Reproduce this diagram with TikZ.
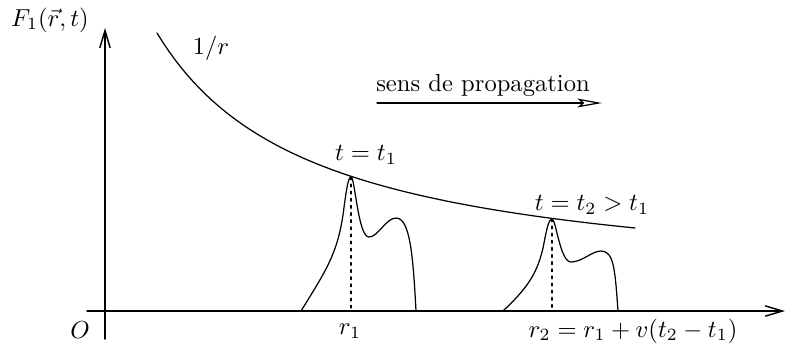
\documentclass[tikz,border=0pt]{standalone}
\usepackage{amsmath,amssymb}
\usetikzlibrary{arrows.meta}

\begin{document}
\begin{tikzpicture}[x=0.0143cm,y=-0.0143cm,line cap=round,
  axis/.style={line width=0.6pt,-{Straight Barb[length=7pt,width=4.2pt]}},
  pulse/.style={line width=0.5pt},
  peakline/.style={dash pattern=on 1.1pt off 1.8pt,line width=0.5pt}]
\useasboundingbox (0,0) rectangle (804,344);
% axes
\coordinate (xstart) at (87,311);
\coordinate (xend) at (785,311);
\coordinate (ystart) at (105,339);
\coordinate (yend) at (105,28);
\draw[axis] (xstart) -- (xend);
\draw[axis] (ystart) -- (yend);
\node (Flab) at (50,20) {$F_1(\vec r,t)$};
\node (Olab) at (80,330) {$O$};
\node[anchor=west] (rlab) at (796,331) {$r$};
% 1/r envelope
\draw[pulse] plot[domain=52:530,samples=80] ({105+\x},{291.7-404.14*(100/(\x+104.2))});
\node (envlab) at (211,48) {$1/r$};
% direction of propagation
\coordinate (pstart) at (377,103);
\coordinate (pend) at (602,103);
\draw[line width=0.5pt,-{Stealth[open,length=10pt,width=3.6pt,inset=2pt]}] (pstart) -- (pend);
\node[above=-1pt] (proplab) at (483,103) {sens de propagation};
% first pulse
\coordinate (peak1) at (351,177);
\coordinate (foot1) at (351,311);
\draw[pulse] (301,311) .. controls (325,272) and (337,255) .. (343,215)
  .. controls (346,192) and (348,177) .. (peak1)
  .. controls (355,177) and (358,237) .. (369,237)
  .. controls (378,237) and (386,218) .. (396,218)
  .. controls (410,218) and (413,255) .. (416,311);
\draw[peakline] (peak1) -- (foot1);
\node (t1lab) at (366,155) {$t=t_1$};
\node (r1lab) at (350,331) {$r_1$};
% second pulse
\coordinate (peak2) at (552,219);
\coordinate (foot2) at (552,311);
\draw[pulse] (503,311) .. controls (525,290) and (538,275) .. (544,243)
  .. controls (547,227) and (549,219) .. (peak2)
  .. controls (556,219) and (560,262) .. (571,262)
  .. controls (582,262) and (592,251) .. (601,251)
  .. controls (614,251) and (615,270) .. (618,311);
\draw[peakline] (peak2) -- (foot2);
\node (t2lab) at (592,205) {$t=t_2>t_1$};
\node (r2lab) at (633,331) {$r_2=r_1+v(t_2-t_1)$};
\end{tikzpicture}
\end{document}
